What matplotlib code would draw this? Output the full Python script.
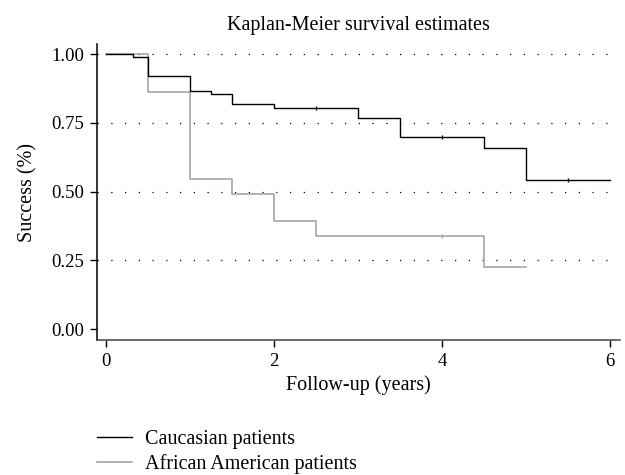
import matplotlib.pyplot as plt

# step times (years) and survival values
cauc_t = [0, 0.32, 0.5, 1.0, 1.25, 1.5, 2.0, 3.0, 3.5, 4.5, 5.0, 6.0]
cauc_s = [1.0, 0.99, 0.922, 0.865, 0.855, 0.817, 0.804, 0.768, 0.70, 0.66, 0.543, 0.543]
cauc_cens_t = [2.5, 4.0, 5.5]
cauc_cens_s = [0.804, 0.70, 0.543]

afr_t = [0, 0.5, 1.0, 1.5, 2.0, 2.5, 4.5, 5.0]
afr_s = [1.0, 0.863, 0.544, 0.493, 0.394, 0.337, 0.224, 0.224]
afr_cens_t = [4.0]
afr_cens_s = [0.337]

yticks = [0.0, 0.25, 0.5, 0.75, 1.0]
xticks = [0, 2, 4, 6]

plt.rcParams["font.family"] = ["Liberation Serif", "DejaVu Serif"]
plt.rcParams["font.size"] = 14

fig = plt.figure(figsize=(6.25, 4.75), dpi=100)
ax = fig.add_axes([0.155, 0.284, 0.837, 0.623])

for y in yticks[1:]:
    ax.axhline(y, color="black", linestyle=(0, (1, 10)), linewidth=0.9, zorder=0)

ax.step(cauc_t, cauc_s, where="post", color="black", linewidth=1.0,
        label="Caucasian patients", zorder=3)
ax.step(afr_t, afr_s, where="post", color="#a6a6a6", linewidth=1.2,
        label="African American patients", zorder=2)
ax.plot(cauc_cens_t, cauc_cens_s, linestyle="none", marker="|", markersize=3,
        color="black", zorder=4)
ax.plot(afr_cens_t, afr_cens_s, linestyle="none", marker="|", markersize=3,
        color="#a6a6a6", zorder=4)

ax.set_xlim(-0.107, 6.12)
ax.set_ylim(-0.04, 1.036)
ax.set_xticks(xticks)
ax.set_yticks(yticks)
ax.set_yticklabels([f"{v:.2f}" for v in yticks])
ax.tick_params(direction="out", length=5, width=1.0, labelsize=13.5, pad=4)

for side in ["top", "right"]:
    ax.spines[side].set_visible(False)
ax.spines["left"].set_linewidth(1.1)
ax.spines["bottom"].set_linewidth(1.1)
ax.spines["bottom"].set_color("#444444")

ax.set_title("Kaplan-Meier survival estimates", fontsize=14.5, pad=10)
ax.set_xlabel("Follow-up (years)", fontsize=14.5, labelpad=4)
ax.set_ylabel("Success (%)", fontsize=14.5, labelpad=10)

fig.legend(loc="upper left", bbox_to_anchor=(97 / 625, 1 - 430 / 475),
           frameon=False, fontsize=14.5, handlelength=1.75, handletextpad=0.65,
           labelspacing=0.25, borderpad=0, borderaxespad=0)

fig.savefig("out.png", dpi=100)
